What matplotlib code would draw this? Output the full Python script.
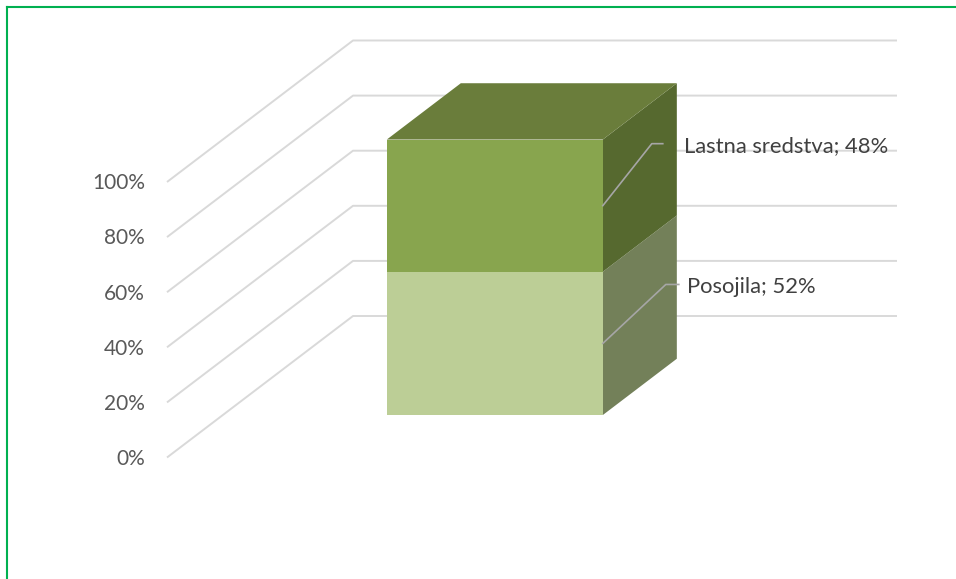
import matplotlib.pyplot as plt
from matplotlib.patches import Polygon

# data
categories = ["Posojila", "Lastna sredstva"]
shares = [52, 48]
ticks = [0, 20, 40, 60, 80, 100]
tick_labels = ["0%", "20%", "40%", "60%", "80%", "100%"]

front_colors = ["#BCCE96", "#88A54E"]
side_colors = ["#738059", "#56692F"]
top_color = "#6A7D3B"

plt.rcParams['font.family'] = ['Lato', 'DejaVu Sans']

fig = plt.figure(figsize=(9.56, 5.79), dpi=100)
ax = fig.add_axes([0, 0, 1, 1])
ax.set_xlim(0, 956)
ax.set_ylim(-44.1, 166.06)
ax.axis('off')

PX = 2.755            # pixels per percent
DX, DY = 186, 141.5 / PX   # full depth offset (floor front -> back wall)


def proj(x, pct, d):
    return (x + DX * d, pct + DY * d)


# walls / gridlines
x_wall = 167
for t, lab in zip(ticks, tick_labels):
    ax.plot([x_wall, x_wall + DX, 897], [t, t + DY, t + DY],
            color="#D9D9D9", lw=1.4, zorder=1, solid_capstyle='butt')
    ax.text(145, t - 0.5, lab, ha='right', va='center', fontsize=15, color="#595959")

# 3d stacked bar
xl, xr = 331, 547
d0, d1 = 0.30, 0.698
bottom = 0
for share, fc, sc in zip(shares, front_colors, side_colors):
    top = bottom + share
    ax.add_patch(Polygon([proj(xr, bottom, d0), proj(xr, bottom, d1),
                          proj(xr, top, d1), proj(xr, top, d0)],
                         closed=True, fc=sc, ec='none', zorder=3))
    ax.add_patch(Polygon([proj(xl, bottom, d0), proj(xr, bottom, d0),
                          proj(xr, top, d0), proj(xl, top, d0)],
                         closed=True, fc=fc, ec='none', zorder=4))
    bottom = top
ax.add_patch(Polygon([proj(xl, bottom, d0), proj(xr, bottom, d0),
                      proj(xr, bottom, d1), proj(xl, bottom, d1)],
                     closed=True, fc=top_color, ec='none', zorder=4))

# data labels with leader lines: (elbow dx, elbow dpct, end dx, text dx, text dpct)
label_layout = [(63, 21.4, 76, 84, 20.3), (49, 22.5, 60, 81, 21.8)]
bottom = 0
for cat, share, (ex, ey, lx, tx, ty) in zip(categories, shares, label_layout):
    mid = bottom + share / 2
    ax0, ay0 = proj(xr, mid, d0)
    ax.plot([ax0, ax0 + ex, ax0 + lx], [ay0, ay0 + ey, ay0 + ey],
            color="#A6A6A6", lw=1.2, zorder=5)
    ax.text(ax0 + tx, ay0 + ty, f"{cat}; {share}%", ha='left', va='center',
            fontsize=15.8, color="#404040", zorder=6)
    bottom += share

# green frame of the chart area
fig.add_artist(plt.Line2D([7 / 956, 1], [1 - 6.5 / 579] * 2, transform=fig.transFigure,
                          color="#00B050", lw=1.5))
fig.add_artist(plt.Line2D([7 / 956] * 2, [0, 1 - 6.5 / 579], transform=fig.transFigure,
                          color="#00B050", lw=1.5))

fig.savefig("out.png", dpi=100)
